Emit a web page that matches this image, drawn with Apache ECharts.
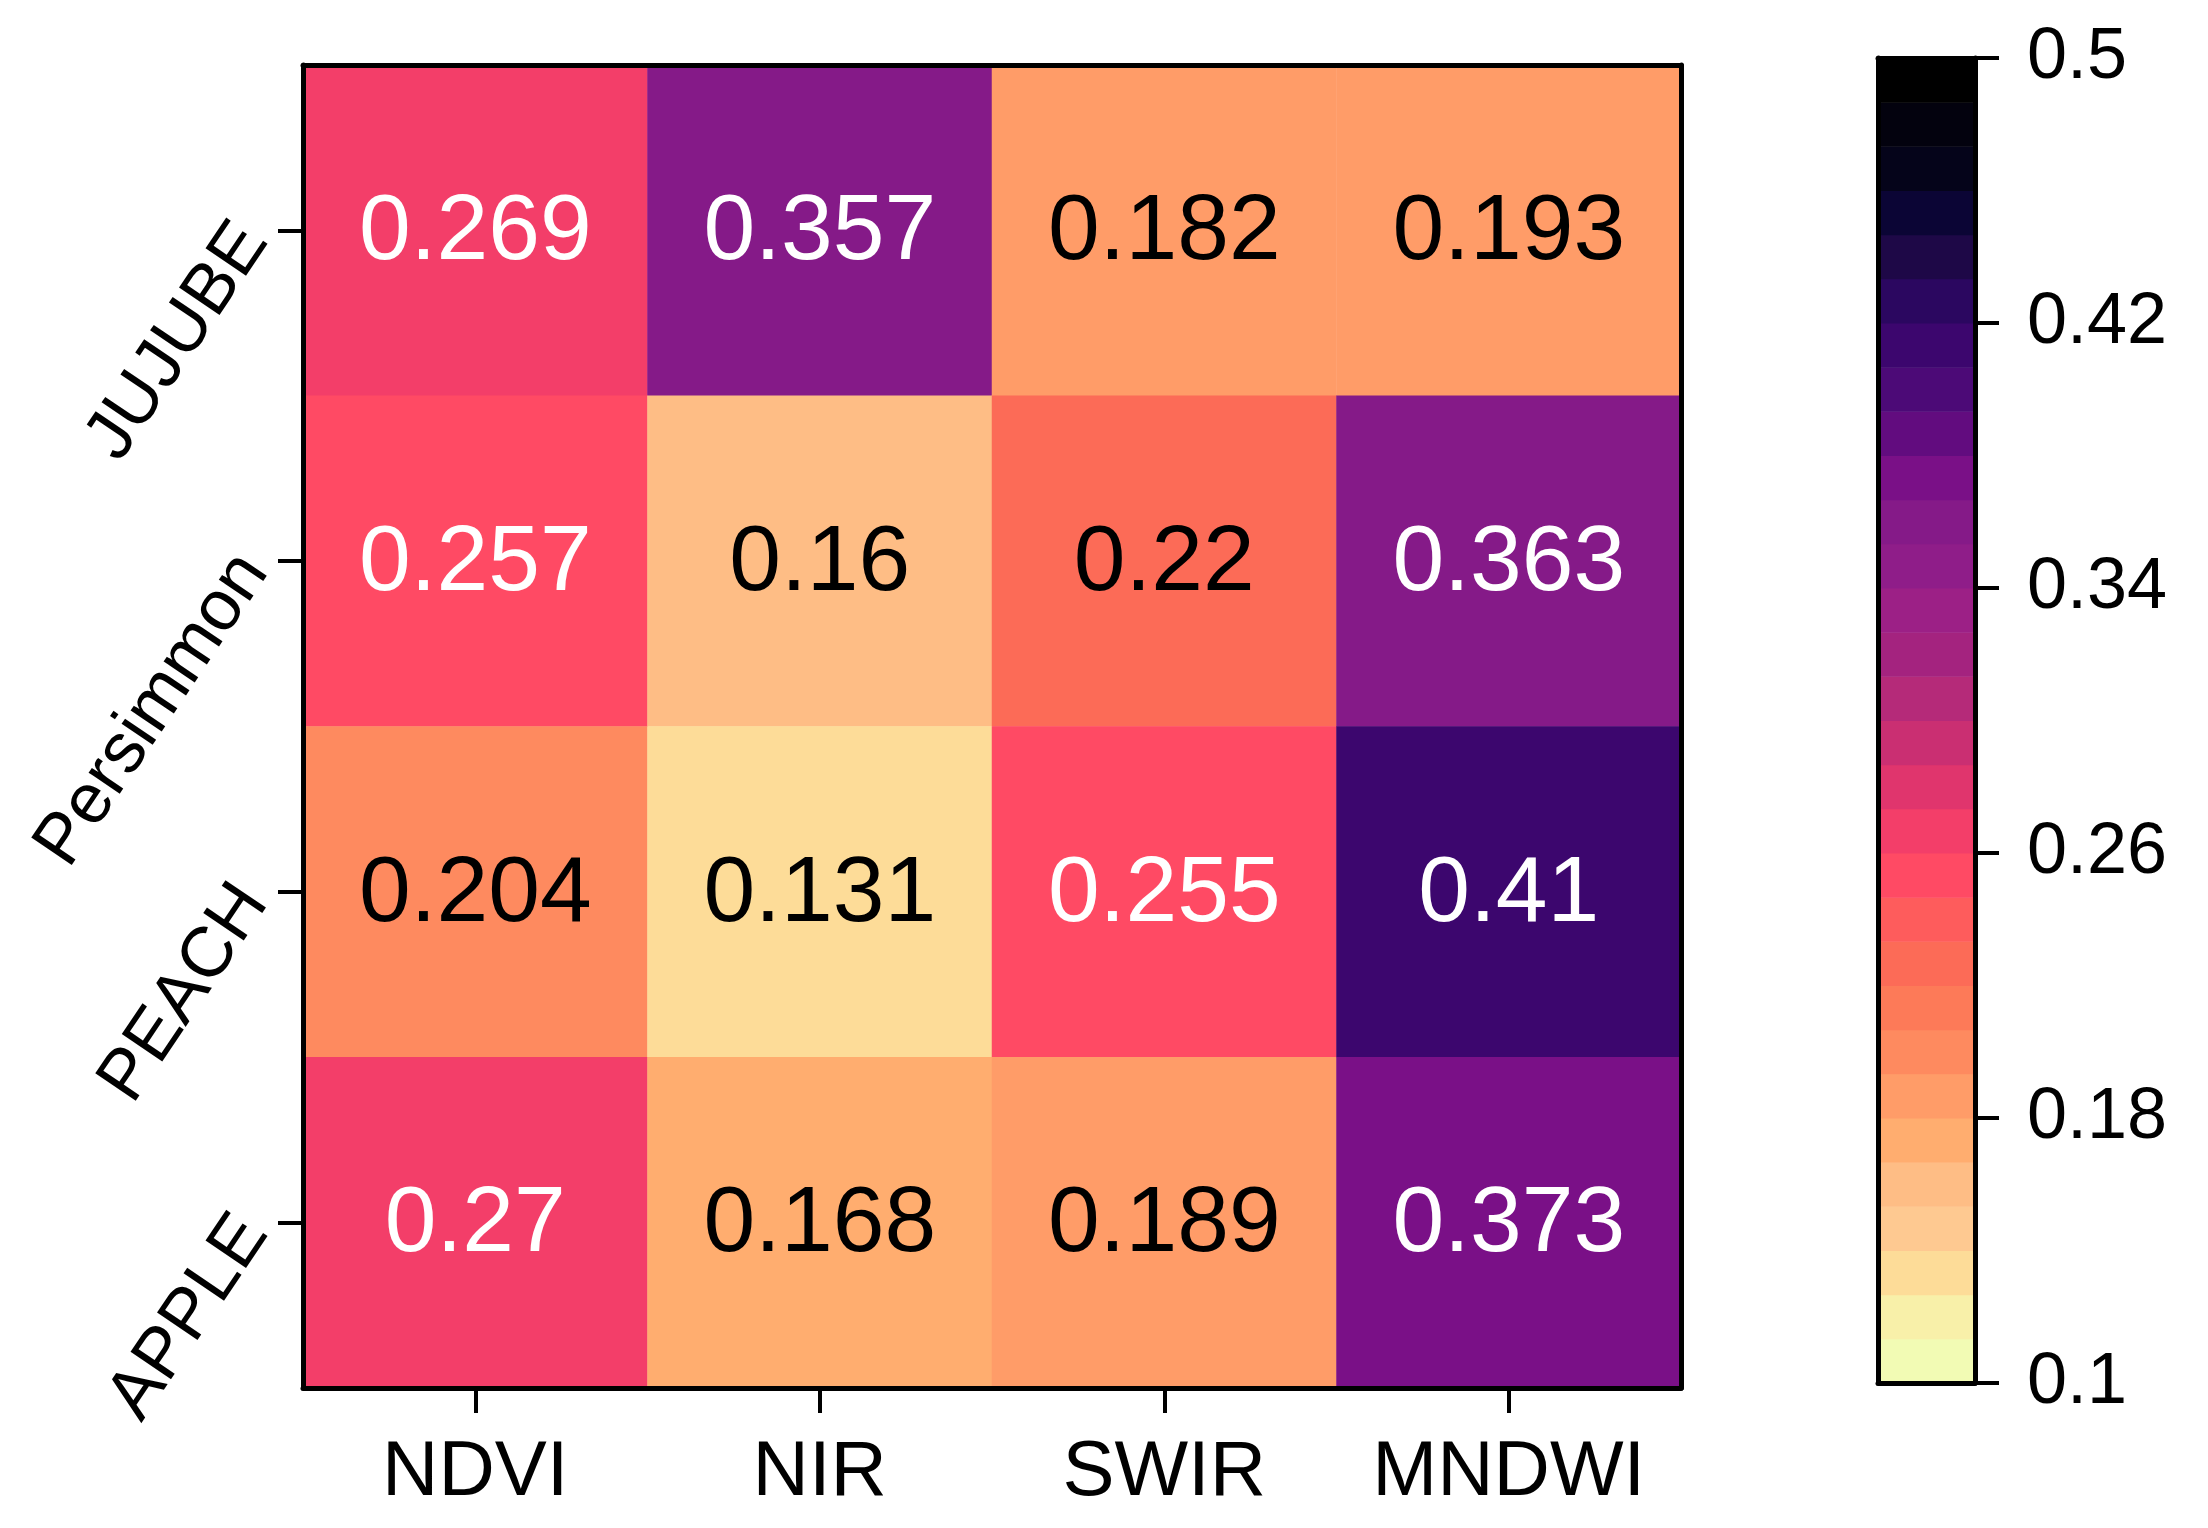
<!DOCTYPE html>
<html>
<head>
<meta charset="utf-8">
<script src="https://cdn.jsdelivr.net/npm/echarts@6/dist/echarts.min.js"></script>
<style>
html,body{margin:0;padding:0;background:#fff;}
#chart{width:2208px;height:1528px;}
</style>
</head>
<body>
<div id="chart"></div>
<script>
// ---- data ----
const columns = ['NDVI', 'NIR', 'SWIR', 'MNDWI'];
const rows = ['JUJUBE', 'Persimmon', 'PEACH', 'APPLE'];   // top to bottom
const valJUJUBE    = [0.269, 0.357, 0.182, 0.193];
const valPersimmon = [0.257, 0.16,  0.22,  0.363];
const valPEACH     = [0.204, 0.131, 0.255, 0.41];
const valAPPLE     = [0.27,  0.168, 0.189, 0.373];
const colorbarTicks = [0.1, 0.18, 0.26, 0.34, 0.42, 0.5];
const scaleMin = 0.1, scaleMax = 0.5, nBands = 30;
// discrete colormap bands, bottom (low) to top (high)
const bandColors = [
  '#f2fbb4','#f8f0a9','#fddc98','#fec991','#febd85','#ffad6f','#ff9c68','#fe8a5f',
  '#fd7a58','#fc6b57','#fe5c5c','#ff4a64','#f33e69','#e0356d','#ca2f72','#b52a79',
  '#a4237f','#9c2086','#8f1d89','#851a88','#7a1087','#620c7f','#4c0a77','#3c066e',
  '#2b0760','#1e0847','#0b0535','#05041a','#03020e','#000000'
];

const matrix = [valJUJUBE, valPersimmon, valPEACH, valAPPLE];
const heatData = [];
matrix.forEach((rowVals, r) => {
  rowVals.forEach((v, c) => {
    heatData.push({ value: [c, r, v], label: { color: v >= 0.25 ? '#ffffff' : '#000000' } });
  });
});

const step = (scaleMax - scaleMin) / nBands;
const pieces = bandColors.map((col, i) => ({
  gte: scaleMin + i * step - (i === 0 ? 1 : 1e-9),
  lt: scaleMin + (i + 1) * step - 1e-9 + (i === nBands - 1 ? 1 : 0),
  color: col
}));
const bandData = bandColors.map((col, i) => [scaleMin + i * step, scaleMin + (i + 1) * step, i]);

const FONT = 'Liberation Sans, Arial, sans-serif';
const chart = echarts.init(document.getElementById('chart'), null, { renderer: 'canvas' });

const frameLine = { show: true, onZero: false, lineStyle: { color: '#000', width: 5 } };
const tickStyle = { color: '#000', width: 4 };

chart.setOption({
  animation: false,
  backgroundColor: '#ffffff',
  grid: [
    { left: 303, top: 65, width: 1378, height: 1323 },
    { left: 1878, top: 58, width: 97, height: 1325 }
  ],
  xAxis: [
    { gridIndex: 0, type: 'category', data: columns, position: 'bottom', z: 10,
      axisLine: frameLine,
      axisTick: { show: true, alignWithLabel: true, interval: 0, length: 25, lineStyle: tickStyle },
      axisLabel: { fontSize: 78, color: '#000', fontFamily: FONT, margin: 46, interval: 0 },
      splitLine: { show: false } },
    { gridIndex: 0, type: 'category', data: columns, position: 'top', z: 10,
      axisLine: frameLine, axisTick: { show: false }, axisLabel: { show: false } },
    { gridIndex: 1, type: 'value', min: 0, max: 1, position: 'bottom', z: 10,
      axisLine: frameLine, axisTick: { show: false }, axisLabel: { show: false }, splitLine: { show: false } },
    { gridIndex: 1, type: 'value', min: 0, max: 1, position: 'top', z: 10,
      axisLine: frameLine, axisTick: { show: false }, axisLabel: { show: false }, splitLine: { show: false } }
  ],
  yAxis: [
    { gridIndex: 0, type: 'category', data: rows, inverse: true, position: 'left', z: 10,
      axisLine: frameLine,
      axisTick: { show: true, alignWithLabel: true, interval: 0, length: 25, lineStyle: tickStyle },
      axisLabel: { fontSize: 71, color: '#000', fontFamily: FONT, rotate: 56, margin: 50,
        interval: 0, verticalAlign: 'middle' },
      splitLine: { show: false } },
    { gridIndex: 0, type: 'category', data: rows, inverse: true, position: 'right', z: 10,
      axisLine: frameLine, axisTick: { show: false }, axisLabel: { show: false } },
    { gridIndex: 1, type: 'value', min: scaleMin, max: scaleMax, interval: 0.08, position: 'right', z: 10,
      axisLine: frameLine,
      axisTick: { show: true, inside: false, length: 24, lineStyle: tickStyle },
      axisLabel: { fontSize: 72, color: '#000', fontFamily: FONT, margin: 52,
        formatter: v => String(+v.toFixed(2)) },
      splitLine: { show: false } },
    { gridIndex: 1, type: 'value', min: scaleMin, max: scaleMax, position: 'left', z: 10,
      axisLine: frameLine, axisTick: { show: false }, axisLabel: { show: false }, splitLine: { show: false } }
  ],
  visualMap: {
    type: 'piecewise', show: false, seriesIndex: 0, dimension: 2, pieces: pieces
  },
  series: [
    {
      type: 'heatmap', xAxisIndex: 0, yAxisIndex: 0, data: heatData,
      label: { show: true, fontSize: 93, fontFamily: FONT, offset: [0, 3],
        formatter: p => String(p.value[2]) },
      itemStyle: { borderWidth: 0 },
      emphasis: { disabled: true }
    },
    {
      type: 'custom', xAxisIndex: 2, yAxisIndex: 2, data: bandData, silent: true,
      renderItem: (params, api) => {
        const p0 = api.coord([0, api.value(0)]);
        const p1 = api.coord([1, api.value(1)]);
        return {
          type: 'rect',
          shape: { x: p0[0], y: p1[1], width: p1[0] - p0[0], height: p0[1] - p1[1] + 0.5 },
          style: { fill: bandColors[api.value(2)] }
        };
      }
    }
  ]
});
</script>
</body>
</html>
